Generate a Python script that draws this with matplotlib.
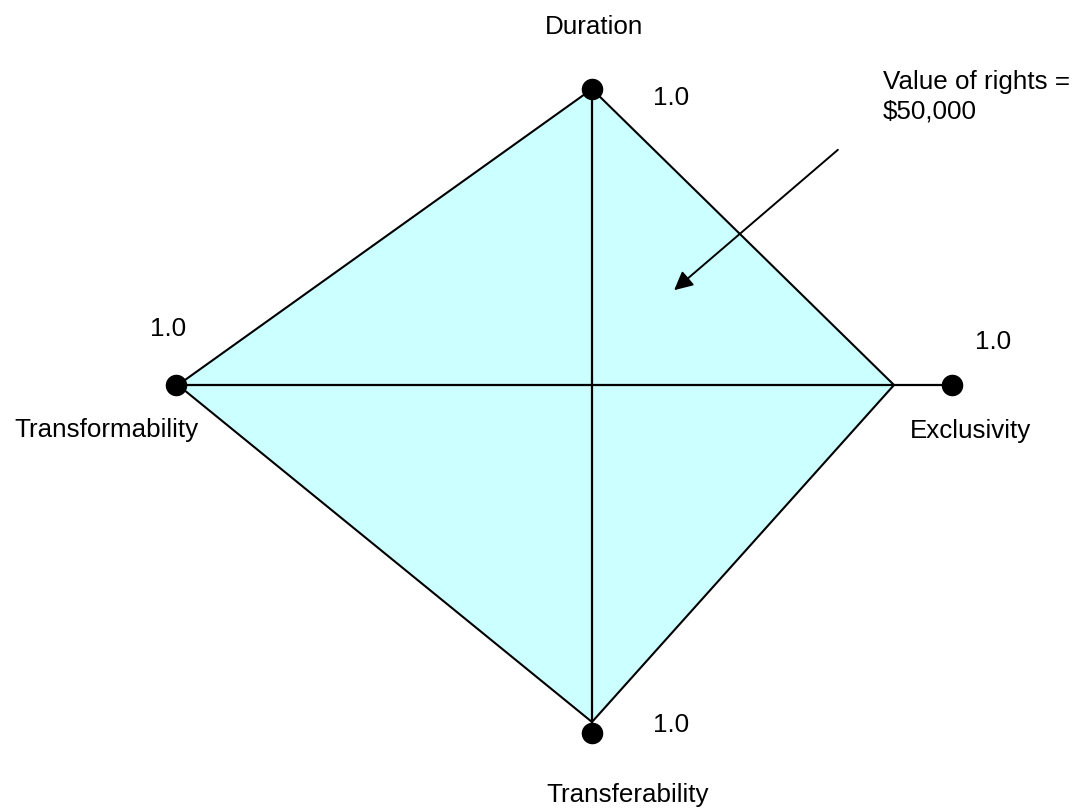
import matplotlib.pyplot as plt
from matplotlib.patches import Polygon

# rights dimensions (order: up, right, down, left)
axis_names = ["Duration", "Exclusivity", "Transferability", "Transformability"]
axis_values = [1.0, 1.0, 1.0, 1.0]
value_labels = ["1.0", "1.0", "1.0", "1.0"]
note_text = "Value of rights =\n$50,000"

# layout in pixels, origin at the crossing of the two axes
W, H = 1082, 810
CX, CY = 592, 385
unit_len = [296, 302, 337, 414]   # where 1.0 sits on each axis
dot_len = [296, 360, 348, 416]    # end-of-axis markers
directions = [(0, 1), (1, 0), (0, -1), (-1, 0)]

FONT = ["Liberation Sans", "DejaVu Sans"]
FS = 18.7


def to_ax(x, y):
    # picture pixel -> axis coordinates
    return x - CX, CY - y


fig = plt.figure(figsize=(W / 100, H / 100), dpi=100)
ax = fig.add_axes([0, 0, 1, 1])
ax.set_xlim(-CX, W - CX)
ax.set_ylim(CY - H, CY)
ax.axis("off")

verts = [(dx * v * u, dy * v * u)
         for (dx, dy), v, u in zip(directions, axis_values, unit_len)]
ax.add_patch(Polygon(verts, closed=True, facecolor="#ccffff",
                     edgecolor="black", lw=1.5, zorder=1))

# the two axes
ax.plot([0, 0], [dot_len[0], -dot_len[2]], color="black", lw=1.6, zorder=2)
ax.plot([-dot_len[3], dot_len[1]], [0, 0], color="black", lw=1.6, zorder=2)

for (dx, dy), d in zip(directions, dot_len):
    ax.plot(dx * d, dy * d, "o", color="black", ms=14.5, zorder=3)

# labels (pixel anchors, baseline)
name_pos = [(594, 34, "center"), (971, 438, "center"),
            (628, 802, "center"), (106, 437, "center")]
val_pos = [(653, 105, "left"), (975, 349, "left"),
           (653, 732, "left"), (168, 336, "center")]
for name, (x, y, ha) in zip(axis_names, name_pos):
    ax.text(*to_ax(x, y), name, ha=ha, va="baseline", fontsize=FS, family=FONT)
for lab, (x, y, ha) in zip(value_labels, val_pos):
    ax.text(*to_ax(x, y), lab, ha=ha, va="baseline", fontsize=FS, family=FONT)

# va="baseline" anchors the last line of the note
ax.text(*to_ax(883, 118), note_text, ha="left", va="baseline",
        fontsize=FS, family=FONT, linespacing=1.28)
ax.annotate("", xy=to_ax(672, 292), xytext=to_ax(840, 148),
            arrowprops=dict(arrowstyle="-|>", mutation_scale=28,
                            lw=1.4, color="black"))

fig.savefig("out.png", dpi=100)
